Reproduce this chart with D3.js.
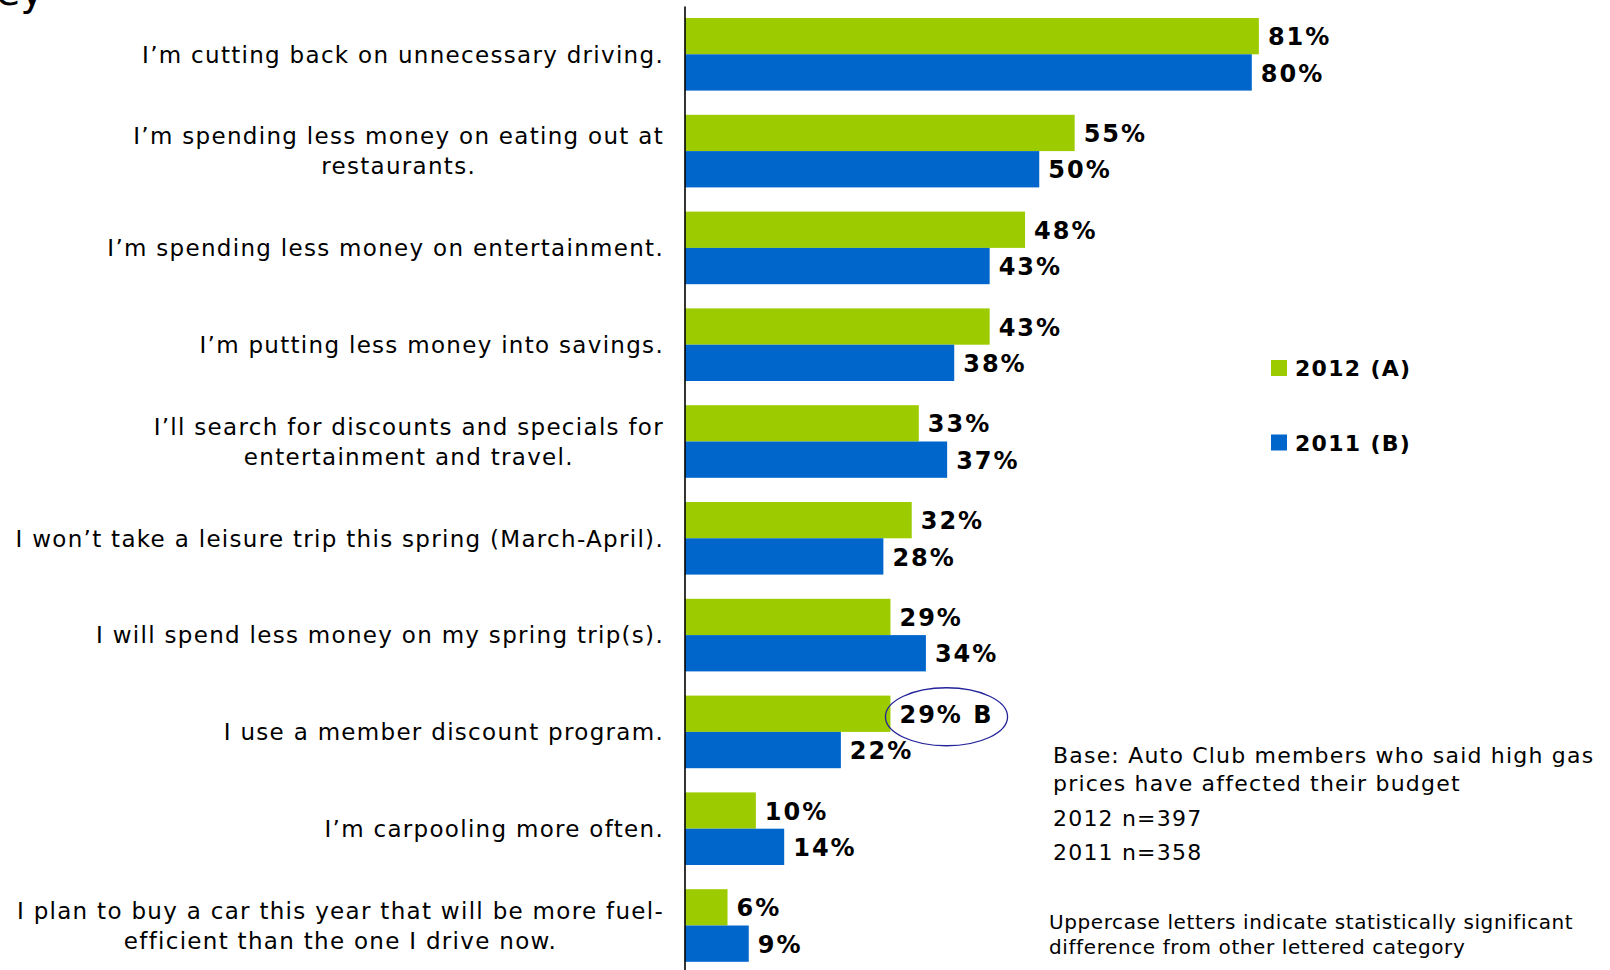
<!DOCTYPE html>
<html>
<head>
<meta charset="utf-8">
<script src="https://cdn.jsdelivr.net/npm/d3@7"></script>
<style>
  html, body { margin: 0; padding: 0; background: #fff; }
  svg { display: block; }
  text { font-family: "DejaVu Sans", Verdana, sans-serif; fill: #000; }
</style>
</head>
<body>
<svg id="chart" width="1610" height="970"></svg>
<script>
// Survey statements (line breaks marked with \n)
const categories = [
  "I\u2019m cutting back on unnecessary driving.",
  "I\u2019m spending less money on eating out at\nrestaurants.",
  "I\u2019m spending less money on entertainment.",
  "I\u2019m putting less money into savings.",
  "I\u2019ll search for discounts and specials for\nentertainment and travel.",
  "I won\u2019t take a leisure trip this spring (March-April).",
  "I will spend less money on my spring trip(s).",
  "I use a member discount program.",
  "I\u2019m carpooling more often.",
  "I plan to buy a car this year that will be more fuel-\nefficient than the one I drive now."
];
const seriesNames = ["2012 (A)", "2011 (B)"];
const values2012 = [81, 55, 48, 43, 33, 32, 29, 29, 10, 6];
const values2011 = [80, 50, 43, 38, 37, 28, 34, 22, 14, 9];
// significance letters shown after the 2012 value
const sigLetters2012 = ["", "", "", "", "", "", "", "B", "", ""];
const baseNote = [
  "Base: Auto Club members who said high gas",
  "prices have affected their budget"
];
const sampleSizes = ["2012 n=397", "2011 n=358"];
const letterNote = [
  "Uppercase letters indicate statistically significant",
  "difference from other lettered category"
];
const colors = ["#9ccc00", "#0066cc"];

const svg = d3.select("#chart");

const x = d3.scaleLinear().domain([0, 100]).range([685, 685 + 708.5]);
const y = d3.scaleBand()
  .domain(categories)
  .range([5.9, 973.9])
  .paddingInner(0.25)
  .paddingOuter(0.125);
const ySub = d3.scaleBand().domain(seriesNames).range([0, y.bandwidth()]);

const rows = categories.map((c, i) => ({
  cat: c,
  vals: [
    { s: seriesNames[0], v: values2012[i], sig: sigLetters2012[i] },
    { s: seriesNames[1], v: values2011[i], sig: "" }
  ]
}));

// clipped heading remnant at top-left
svg.append("text")
  .attr("x", 44).attr("y", 5)
  .attr("text-anchor", "end")
  .style("font-size", "40px")
  .text("ey");

// bars
const groups = svg.append("g").selectAll("g")
  .data(rows).join("g")
  .attr("transform", d => `translate(0,${y(d.cat)})`);

groups.selectAll("rect")
  .data(d => d.vals).join("rect")
  .attr("x", x(0))
  .attr("y", d => ySub(d.s))
  .attr("width", d => x(d.v) - x(0))
  .attr("height", ySub.bandwidth())
  .attr("fill", (d, i) => colors[i]);

// value labels
groups.selectAll("text.val")
  .data(d => d.vals).join("text")
  .attr("class", "val")
  .attr("x", d => x(d.v) + 9)
  .attr("y", d => ySub(d.s) + ySub.bandwidth() / 2)
  .attr("dy", "0.38em")
  .style("font-size", "24px")
  .style("font-weight", "bold")
  .style("letter-spacing", "2px")
  .text(d => d.v + "%" + (d.sig ? " " + d.sig : ""))
  .each(function (d) {
    if (!d.sig) return;
    const b = this.getBBox();
    d3.select(this.parentNode).append("ellipse")
      .attr("cx", b.x + b.width / 2)
      .attr("cy", ySub(d.s) + ySub.bandwidth() / 2 + 3)
      .attr("rx", b.width / 2 + 14)
      .attr("ry", 29)
      .attr("fill", "none")
      .attr("stroke", "#22229a")
      .attr("stroke-width", 1.3);
  });

// category axis line
svg.append("g")
  .attr("transform", `translate(${x(0) - 0.5},0)`)
  .call(d3.axisLeft(y).tickSize(0).tickFormat(""))
  .call(g => g.select(".domain").attr("stroke", "#000").attr("stroke-width", 1.6));

// category labels: block right-aligned, lines centered within block
const labelRight = 664;
const lineH = 29.8;
const labels = svg.append("g").selectAll("text")
  .data(categories).join("text")
  .style("font-size", "23px")
  .style("letter-spacing", "1.3px")
  .attr("text-anchor", "middle");
labels.each(function (c) {
  const t = d3.select(this);
  const lines = c.split("\n");
  const cy = y(c) + y.bandwidth() / 2;
  lines.forEach((ln, k) => {
    t.append("tspan")
      .attr("y", cy + (k - (lines.length - 1) / 2) * lineH)
      .attr("dy", "0.36em")
      .text(ln);
  });
  let maxW = 0;
  t.selectAll("tspan").each(function () { maxW = Math.max(maxW, this.getComputedTextLength()); });
  t.selectAll("tspan").attr("x", labelRight - maxW / 2);
});

// legend
const legend = svg.append("g").selectAll("g")
  .data(seriesNames).join("g")
  .attr("transform", (d, i) => `translate(1271,${360 + i * 74.5})`);
legend.append("rect").attr("width", 16).attr("height", 16).attr("fill", (d, i) => colors[i]);
legend.append("text")
  .attr("x", 24).attr("y", 16)
  .style("font-size", "22px").style("font-weight", "bold")
  .style("letter-spacing", "1.3px")
  .text(d => d);

// notes
const notes = svg.append("g").style("font-size", "22px").style("letter-spacing", "1.2px");
notes.selectAll("text.base")
  .data(baseNote).join("text").attr("class", "base")
  .attr("x", 1053).attr("y", (d, i) => 763 + i * 27.5)
  .text(d => d);
notes.selectAll("text.n")
  .data(sampleSizes).join("text").attr("class", "n")
  .attr("x", 1053).attr("y", (d, i) => 826 + i * 34)
  .text(d => d);
notes.selectAll("text.sig")
  .data(letterNote).join("text").attr("class", "sig")
  .attr("x", 1049).attr("y", (d, i) => 929 + i * 25)
  .style("font-size", "20px")
  .style("letter-spacing", "0.6px")
  .text(d => d);
</script>
</body>
</html>
